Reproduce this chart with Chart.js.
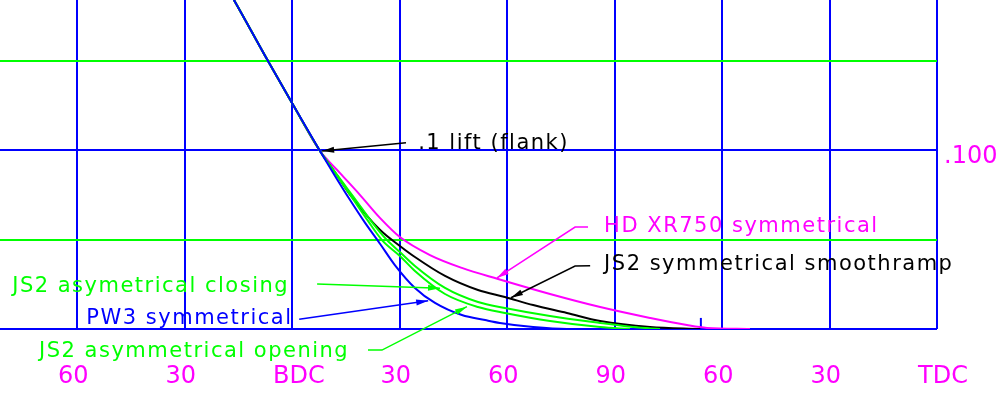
<!DOCTYPE html>
<html>
<head>
<meta charset="utf-8">
<script src="https://cdn.jsdelivr.net/npm/chart.js@4"></script>
<style>
    html, body { margin: 0; padding: 0; background: #fff; }
    #wrap { width: 1000px; height: 399px; }
</style>
</head>
<body>
<div id="wrap"><canvas id="liftChart"></canvas></div>
<script>
// axis: degrees from BDC, lift in inches
const tickDegrees = [-60, -30, 0, 30, 60, 90, 120, 150, 180];
const tickLabels = ["60", "30", "BDC", "30", "60", "90", "60", "30", "TDC"];
const liftGrid = [0, 0.05, 0.1, 0.15];

// flank shared by every profile
const flankDeg = [-26.0, -16.2, -6.7, 0.0, 7.8];
const flankLift = [0.2178, 0.1842, 0.15, 0.1265, 0.0997];

const pw3Deg = [12.0, 16.2, 20.4, 24.6, 28.7, 34.3, 39.9, 47.4, 53.9, 58.0, 67.3, 76.7, 86.0];
const pw3Lift = [0.0857, 0.0722, 0.0594, 0.0476, 0.0358, 0.023, 0.0146, 0.0078, 0.005, 0.0034, 0.0011, 0, 0];

const closingDeg = [12.8, 17.6, 22.3, 26.5, 30.1, 34.3, 42.7, 51.9, 59.4, 72.0, 86.0, 95.2, 102.7];
const closingLift = [0.0857, 0.0728, 0.0599, 0.0498, 0.0431, 0.0353, 0.023, 0.0151, 0.0118, 0.0073, 0.0034, 0.0011, 0];

const openingDeg = [12.6, 17.0, 21.2, 25.1, 30.1, 34.3, 42.7, 51.9, 59.4, 72.0, 86.0, 94.3];
const openingLift = [0.0857, 0.0728, 0.0605, 0.0498, 0.0409, 0.0325, 0.0196, 0.0123, 0.009, 0.0045, 0.0011, 0];

const smoothDeg = [12.3, 16.7, 24.6, 30.1, 34.3, 42.7, 51.9, 59.4, 67.3, 76.7, 86.0, 99.9, 113.9];
const smoothLift = [0.0868, 0.0739, 0.0554, 0.0465, 0.0403, 0.0297, 0.0218, 0.0179, 0.0134, 0.009, 0.0045, 0.0011, 0];

const xr750Deg = [13.4, 19.0, 24.6, 30.1, 38.5, 47.4, 57.5, 72.0, 86.0, 99.9, 110.2, 115.8, 127.8];
const xr750Lift = [0.0873, 0.075, 0.0621, 0.0515, 0.0414, 0.0342, 0.028, 0.0196, 0.0123, 0.0062, 0.0022, 0.0006, 0];

const markDeg = 114.1;
const markLift = 0.0062;

const BLUE = "#0000ff", GREEN = "#00ff00", MAGENTA = "#ff00ff", BLACK = "#000000";

function profile(deg, lift) {
    const xs = flankDeg.concat(deg);
    const ys = flankLift.concat(lift);
    return xs.map((v, i) => ({ x: v, y: ys[i] }));
}

// labels and leader lines, in chart units
const notes = [
    { text: ".1 lift (flank)", color: BLACK, x: 35.2, y: 0.1008, path: [[31.8, 0.1043], [8.4, 0.0997]] },
    { text: "HD XR750 symmetrical", color: MAGENTA, x: 87.1, y: 0.0543, path: [[82.6, 0.0571], [79.0, 0.0571], [57.2, 0.0286]] },
    { text: "JS2 symmetrical smoothramp", color: BLACK, x: 87.1, y: 0.0328, path: [[83.2, 0.0354], [79.0, 0.0353], [61.1, 0.0175]] },
    { text: "JS2 asymetrical closing", color: GREEN, x: -78.1, y: 0.0207, path: [[7.0, 0.0252], [41.3, 0.0228]] },
    { text: "PW3 symmetrical", color: BLUE, x: -57.4, y: 0.0028, path: [[2.0, 0.0054], [38.0, 0.0158]] },
    { text: "JS2 asymmetrical opening", color: GREEN, x: -70.6, y: -0.0157, path: [[21.2, -0.0118], [25.1, -0.0118], [48.8, 0.0125]] },
];

const notesPlugin = {
    id: "notes",
    afterDraw(chart) {
        const { ctx } = chart;
        const sx = chart.scales.x, sy = chart.scales.y;
        ctx.save();
        ctx.font = '21px "DejaVu Sans"';
        ctx.letterSpacing = "1.5px";
        ctx.textBaseline = "alphabetic";
        ctx.textAlign = "left";
        notes.forEach((n) => {
            const pts = n.path.map((p) => [sx.getPixelForValue(p[0]), sy.getPixelForValue(p[1])]);
            ctx.strokeStyle = n.color;
            ctx.fillStyle = n.color;
            ctx.lineWidth = 1.5;
            ctx.beginPath();
            pts.forEach((p, i) => (i ? ctx.lineTo(p[0], p[1]) : ctx.moveTo(p[0], p[1])));
            ctx.stroke();
            // arrow head at the curve end
            const [ax, ay] = pts[pts.length - 1];
            const [bx, by] = pts[pts.length - 2];
            const a = Math.atan2(ay - by, ax - bx);
            ctx.beginPath();
            ctx.moveTo(ax, ay);
            ctx.lineTo(ax - 12 * Math.cos(a) + 3 * Math.sin(a), ay - 12 * Math.sin(a) - 3 * Math.cos(a));
            ctx.lineTo(ax - 12 * Math.cos(a) - 3 * Math.sin(a), ay - 12 * Math.sin(a) + 3 * Math.cos(a));
            ctx.closePath();
            ctx.fill();
            ctx.fillText(n.text, sx.getPixelForValue(n.x), sy.getPixelForValue(n.y));
        });
        ctx.restore();
    },
};

function line(data, color) {
    return {
        data: data,
        borderColor: color,
        borderWidth: 2,
        pointRadius: 0,
        fill: false,
        cubicInterpolationMode: "monotone",
    };
}

document.addEventListener("DOMContentLoaded", () => {
    const ctx = document.getElementById("liftChart");
    new Chart(ctx, {
        type: "line",
        data: {
            datasets: [
                line(profile(pw3Deg, pw3Lift), BLUE),
                line(profile(openingDeg, openingLift), GREEN),
                line(profile(closingDeg, closingLift), GREEN),
                line(profile(smoothDeg, smoothLift), BLACK),
                line(profile(xr750Deg, xr750Lift), MAGENTA),
                {
                    data: [{ x: markDeg, y: 0 }, { x: markDeg, y: markLift }],
                    borderColor: BLUE,
                    borderWidth: 2,
                    pointRadius: 0,
                    tension: 0,
                },
            ],
        },
        options: {
            responsive: true,
            maintainAspectRatio: false,
            animation: false,
            layout: { padding: 0 },
            plugins: { legend: { display: false }, tooltip: { enabled: false } },
            scales: {
                x: {
                    type: "linear",
                    position: "bottom",
                    min: -81.5,
                    max: 180,
                    border: { display: false },
                    grid: { color: BLUE, lineWidth: 2, drawTicks: false },
                    ticks: {
                        color: MAGENTA,
                        font: { family: "DejaVu Sans", size: 24 },
                        align: "start",
                        labelOffset: -19,
                        padding: 33,
                        autoSkip: false,
                        maxRotation: 0,
                        callback: (v) => {
                            const i = tickDegrees.indexOf(v);
                            return i >= 0 ? tickLabels[i] : "";
                        },
                    },
                    afterBuildTicks: (s) => {
                        s.ticks = tickDegrees.map((v) => ({ value: v }));
                    },
                    afterFit: (s) => {
                        s.height = 70;
                        s.paddingLeft = 0;
                        s.paddingRight = 0;
                    },
                },
                y: {
                    type: "linear",
                    position: "right",
                    min: 0,
                    max: 0.18421,
                    border: { display: false },
                    grid: {
                        color: (c) => (c.index % 2 ? GREEN : BLUE),
                        lineWidth: 2,
                        drawTicks: false,
                    },
                    ticks: {
                        color: MAGENTA,
                        font: { family: "DejaVu Sans", size: 24 },
                        padding: 7,
                        labelOffset: 6,
                        callback: (v) => (v === 0.1 ? ".100" : ""),
                    },
                    afterBuildTicks: (s) => {
                        s.ticks = liftGrid.map((v) => ({ value: v }));
                    },
                    afterFit: (s) => {
                        s.width = 63;
                        s.paddingTop = 0;
                        s.paddingBottom = 0;
                    },
                },
            },
        },
        plugins: [notesPlugin],
    });
});
</script>
</body>
</html>
